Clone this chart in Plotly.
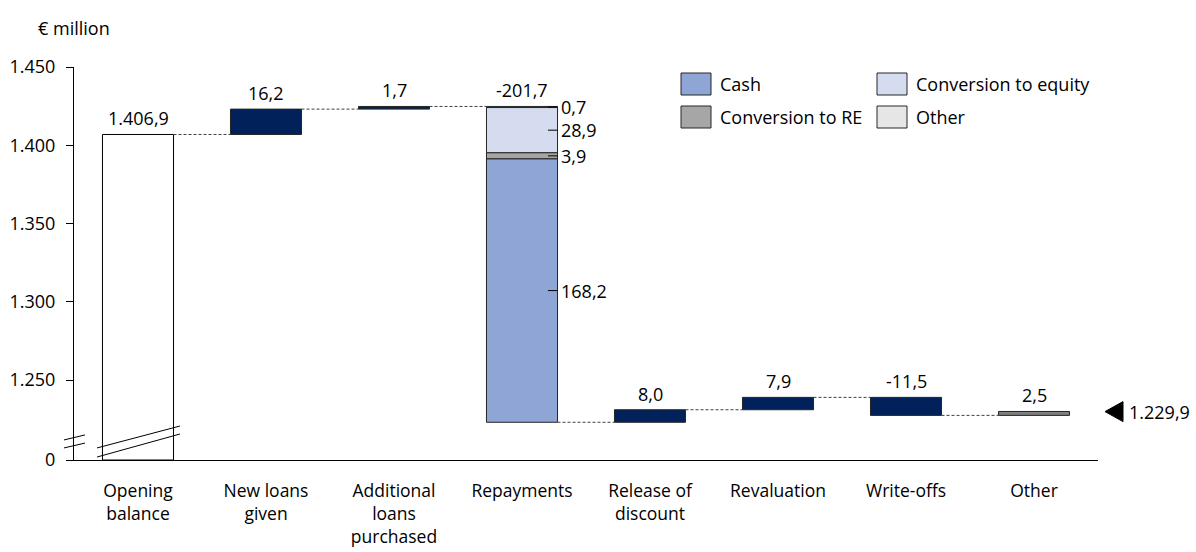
import plotly.graph_objects as go

# ---- data -------------------------------------------------------------
categories = ["Opening<br>balance", "New loans<br>given", "Additional<br>loans<br>purchased",
              "Repayments", "Release of<br>discount", "Revaluation", "Write-offs", "Other"]
opening_balance = 1406.9
changes = [16.2, 1.7, -201.7, 8.0, 7.9, -11.5, 2.5]          # steps 1..7
change_labels = ["16,2", "1,7", "-201,7", "8,0", "7,9", "-11,5", "2,5"]
opening_label = "1.406,9"

# repayments split, stacked from the top downwards
repay_parts = ["Other", "Conversion to equity", "Conversion to RE", "Cash"]
repay_values = [0.7, 28.9, 3.9, 168.2]
repay_labels = ["0,7", "28,9", "3,9", "168,2"]

closing_balance = 1229.9
closing_label = "1.229,9"

tick_vals = [1250, 1300, 1350, 1400, 1450]
tick_text = ["1.250", "1.300", "1.350", "1.400", "1.450"]
AXIS_FLOOR = 1199        # value drawn at the broken-axis "0"

# ---- styling ----------------------------------------------------------
FONT = "Open Sans"
FS = 18
NAVY = "#002159"
COLORS = {"Cash": "#8EA5D6", "Conversion to equity": "#D6DCF0",
          "Conversion to RE": "#A6A6A6", "Other": "#E6E6E6"}
OTHER_BAR = "#808080"
W = 0.555

# plot-area geometry in pixels, used to place the hand-drawn legend
PW, PH, L, B = 1024, 393, 74, 460
PX_PER_UNIT = PH / (1450 - AXIS_FLOOR)


def px(xp):
    return (xp - L) / PW


def py(yp):
    return (B - yp) / PH


# ---- waterfall geometry ----------------------------------------------
levels = [opening_balance]
for c in changes:
    levels.append(levels[-1] + c)

fig = go.Figure()

# opening balance (white, starting at the axis floor)
fig.add_trace(go.Bar(x=[0], y=[opening_balance - AXIS_FLOOR], base=[AXIS_FLOOR], width=W,
                     marker=dict(color="white", line=dict(color="black", width=1)),
                     showlegend=False, hoverinfo="skip"))

# single-colour step bars
for i, c in enumerate(changes, start=1):
    if i == 3:
        continue
    start = levels[i - 1]
    color = OTHER_BAR if i == 7 else NAVY
    fig.add_trace(go.Bar(x=[i], y=[abs(c)], base=[min(start, start + c)], width=W,
                         marker=dict(color=color, line=dict(color="#262626", width=1)),
                         showlegend=False, hoverinfo="skip"))

# repayments stacked downwards from the previous level
top = levels[2]
repay_mids = []
for name, v in zip(repay_parts, repay_values):
    fig.add_trace(go.Bar(x=[3], y=[v], base=[top - v], width=W,
                         marker=dict(color=COLORS[name], line=dict(color="#262626", width=1)),
                         showlegend=False, hoverinfo="skip"))
    repay_mids.append(top - v / 2)
    top -= v

shapes = []
annotations = []

# closing balance pointer: triangle just right of the plot area + value text
half = 10 / PX_PER_UNIT
shapes.append(dict(type="path", xref="paper", yref="y",
                   path=(f"M {px(1123)},{closing_balance + half} "
                         f"L {px(1105)},{closing_balance} "
                         f"L {px(1123)},{closing_balance - half} Z"),
                   fillcolor="black", line=dict(color="black", width=1)))
annotations.append(dict(xref="paper", yref="y", x=px(1127), y=closing_balance,
                        text=closing_label, showarrow=False, xanchor="left",
                        yanchor="middle"))

# dashed connectors between consecutive bars
for i in range(7):
    shapes.append(dict(type="line", xref="x", yref="y",
                       x0=i + W / 2, x1=i + 1 - W / 2, y0=levels[i], y1=levels[i],
                       line=dict(color="#404040", width=1, dash="3px,2px")))

# value labels above bars
annotations.append(dict(x=0, y=opening_balance, text=opening_label, showarrow=False,
                        yanchor="bottom", yshift=2))
for i, (c, lab) in enumerate(zip(changes, change_labels), start=1):
    annotations.append(dict(x=i, y=max(levels[i - 1], levels[i]), text=lab, showarrow=False,
                            yanchor="bottom", yshift=2))

# repayment segment labels with short leader ticks
edge = 3 + W / 2
for mid, lab in zip(repay_mids, repay_labels):
    shapes.append(dict(type="line", xref="x", yref="y", x0=edge - 0.075, x1=edge,
                       y0=mid, y1=mid, line=dict(color="black", width=1)))
    annotations.append(dict(x=edge, y=mid, text=lab, showarrow=False, xanchor="left",
                            yanchor="middle", xshift=1))

# broken-axis marks on the y axis and across the opening bar
for y0, y1 in [(1211.8, 1215.0), (1206.7, 1209.8)]:
    shapes.append(dict(type="line", xref="paper", yref="y", x0=-0.0098, x1=0.0107,
                       y0=y0, y1=y1, line=dict(color="black", width=1)))
for y0, y1 in [(1206.7, 1220.7), (1200.9, 1215.6)]:
    shapes.append(dict(type="line", xref="x", yref="y", x0=-0.32, x1=0.328,
                       y0=y0, y1=y1, line=dict(color="black", width=1)))

# legend drawn as boxes + text
legend_items = [("Cash", 681, 84), ("Conversion to equity", 877, 84),
                ("Conversion to RE", 681, 117), ("Other", 877, 117)]
for name, bx, cy in legend_items:
    shapes.append(dict(type="rect", xref="paper", yref="paper",
                       x0=px(bx), x1=px(bx + 30), y0=py(cy + 11), y1=py(cy - 11),
                       fillcolor=COLORS[name], line=dict(color="#262626", width=1)))
    annotations.append(dict(xref="paper", yref="paper", x=px(bx + 37), y=py(cy),
                            text=name, showarrow=False, xanchor="left", yanchor="middle"))

# unit caption
annotations.append(dict(xref="paper", yref="paper", x=px(36), y=py(28), text="€ million",
                        showarrow=False, xanchor="left", yanchor="middle"))

fig.update_layout(
    width=1196, height=552,
    margin=dict(l=L, r=1196 - L - PW, t=B - PH, b=552 - B),
    barmode="overlay",
    plot_bgcolor="white", paper_bgcolor="white",
    font=dict(family=FONT, size=FS, color="black"),
    shapes=shapes, annotations=annotations,
    showlegend=False,
)
fig.update_xaxes(range=[-0.5, 7.5], tickmode="array", tickvals=list(range(8)),
                 ticktext=categories, showline=True, linecolor="black", linewidth=1,
                 ticks="", showgrid=False, zeroline=False, ticklabelstandoff=15,
                 tickfont=dict(size=17.5), automargin=False, fixedrange=True)
fig.update_yaxes(range=[AXIS_FLOOR, 1450], tickmode="array",
                 tickvals=[AXIS_FLOOR] + tick_vals, ticktext=["0"] + tick_text,
                 showline=True, linecolor="black", linewidth=1, ticks="outside",
                 ticklen=7, tickcolor="black", showgrid=False, zeroline=False,
                 ticklabelstandoff=7, automargin=False, fixedrange=True)

fig.write_html("out.html")
